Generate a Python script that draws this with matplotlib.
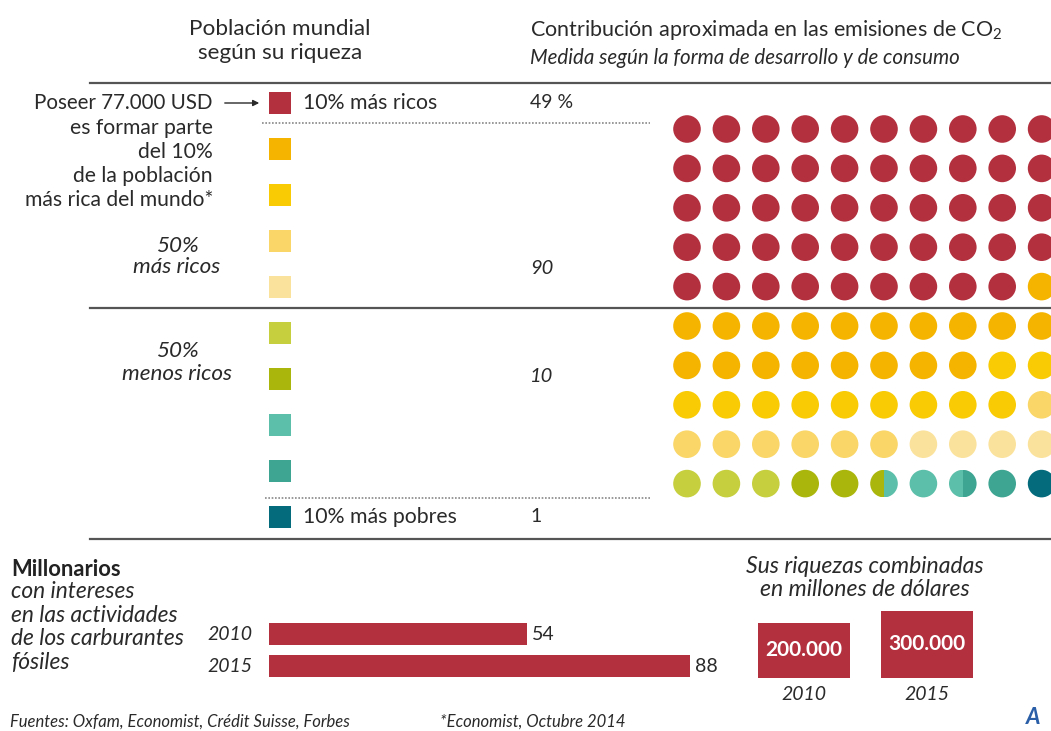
import matplotlib
matplotlib.use("Agg")
import matplotlib.pyplot as plt
from matplotlib.patches import Circle, Rectangle
import numpy as np

plt.rcParams['font.family'] = ['Lato', 'DejaVu Sans']
plt.rcParams['mathtext.default'] = 'regular'

# DATA
decile_labels = ['10% más ricos', '', '', '', '', '', '', '', '', '10% más pobres']
decile_shares = [49, 19, 11, 7, 4, 3, 2.5, 2, 1.5, 1]
decile_colors = ['#b3303f', '#f4b400', '#f8cb04', '#f9d667', '#fbe29c',
                 '#c6cf3e', '#abb60c', '#5cbfa9', '#3fa593', '#036b7c']
group_values = ['49 %', '90', '10', '1']

years = ['2010', '2015']
millionaires = [54, 88]
wealth = [200000, 300000]
wealth_labels = ['200.000', '300.000']

TXT = '#2a2a2a'
RED = '#b3303f'

fig = plt.figure(figsize=(10.51, 7.31), dpi=100)
ax = fig.add_axes([0, 0, 1, 1])
ax.set_xlim(0, 1051)
ax.set_ylim(731, 0)
ax.axis('off')

# HEADERS
ax.text(280, 41, "Población mundial\nsegún su riqueza", fontsize=16.2, color=TXT,
        ha='center', va='center', linespacing=1.22)
ax.text(530, 30, "Contribución aproximada en las emisiones de CO$_2$", fontsize=15.5,
        color=TXT, ha='left', va='center')
ax.text(530, 58, "Medida según la forma de desarrollo y de consumo", fontsize=14.8,
        color=TXT, ha='left', va='center', style='italic')

# separators
ax.plot([90, 1051], [83, 83], color='#555555', lw=1.6)
ax.plot([90, 1051], [308, 308], color='#555555', lw=1.6)
ax.plot([90, 1051], [539, 539], color='#555555', lw=1.6)
ax.plot([262, 650], [123, 123], color='#888888', lw=1.2, ls=(0, (1, 1)))
ax.plot([265, 650], [498, 498], color='#888888', lw=1.2, ls=(0, (1, 1)))

# LEGEND SQUARES
sq_y = 103 + 46.0 * np.arange(len(decile_colors))
for y, c in zip(sq_y, decile_colors):
    ax.add_patch(Rectangle((269, y - 11), 22, 22, facecolor=c, edgecolor='none'))
ax.text(303, sq_y[0], decile_labels[0], fontsize=15.3, color=TXT, va='center')
ax.text(303, sq_y[-1], decile_labels[-1], fontsize=15.3, color=TXT, va='center')

ax.text(530, sq_y[0], group_values[0], fontsize=14, color=TXT, va='center')
ax.text(530, 268, group_values[1], fontsize=14.5, color=TXT, va='center', style='italic')
ax.text(530, 376, group_values[2], fontsize=14.5, color=TXT, va='center', style='italic')
ax.text(530, sq_y[-1], group_values[3], fontsize=14, color=TXT, va='center')

ax.text(213, 103, "Poseer 77.000 USD", fontsize=14.8, color=TXT, ha='right', va='center')
ax.annotate('', xy=(262, 103), xytext=(222, 103),
            arrowprops=dict(arrowstyle='-|>', color=TXT, lw=1, mutation_scale=9))
ax.text(213, 164, "es formar parte\ndel 10%\nde la población\nmás rica del mundo*",
        fontsize=15.2, color=TXT, ha='right', va='center', linespacing=1.25)
ax.text(177, 256.5, "50%\nmás ricos", fontsize=16.2, color=TXT, ha='center', va='center',
        style='italic', linespacing=1.12)
ax.text(177, 362.5, "50%\nmenos ricos", fontsize=16.2, color=TXT, ha='center', va='center',
        style='italic', linespacing=1.2)

# DOT GRID (100 dots, one per percent)
x0, y0, step, r = 687, 129, 39.4, 13.8
bounds = np.concatenate([[0], np.cumsum(decile_shares)])
for k in range(100):
    cx = x0 + step * (k % 10)
    cy = y0 + step * (k // 10)
    for i, c in enumerate(decile_colors):
        a = max(bounds[i], k)
        b = min(bounds[i + 1], k + 1)
        if b <= a:
            continue
        if b - a >= 1:
            ax.add_patch(Circle((cx, cy), r, facecolor=c, edgecolor='none'))
        else:
            clip = Circle((cx, cy), r, transform=ax.transData)
            rect = Rectangle((cx - r + (a - k) * 2 * r, cy - r), (b - a) * 2 * r, 2 * r,
                             facecolor=c, edgecolor='none')
            ax.add_patch(rect)
            rect.set_clip_path(clip)

# MILLIONAIRES BARS
ax.text(11, 569, "Millonarios", fontsize=15.8, color='#222222', fontweight='bold', va='center')
ax.text(11, 627, "con intereses\nen las actividades\nde los carburantes\nfósiles",
        fontsize=16.4, color=TXT, va='center', style='italic', linespacing=1.15)
bar_y = [634, 666]
scale = 4.78
ax.barh(bar_y, [v * scale for v in millionaires], left=269, height=22, color=RED)
for y, v, yr in zip(bar_y, millionaires, years):
    ax.text(269 + v * scale + 5, y, str(v), fontsize=14, color=TXT, va='center')
    ax.text(252, y, yr, fontsize=14, color=TXT, va='center', ha='right', style='italic')

# COMBINED WEALTH BOXES
ax.text(865, 578, "Sus riquezas combinadas\nen millones de dólares", fontsize=16.6,
        color=TXT, ha='center', va='center', style='italic', linespacing=1.15)
box_cx = [803.5, 927]
box_w = 92
base_h = 55
for cx, w, lab, yr in zip(box_cx, wealth, wealth_labels, years):
    h = base_h * np.sqrt(w / wealth[0])
    ax.add_patch(Rectangle((cx - box_w / 2, 678 - h), box_w, h, facecolor=RED, edgecolor='none'))
    ax.text(cx, 678 - h / 2, lab, fontsize=15, color='white', fontweight='bold',
            ha='center', va='center')
    ax.text(cx, 695, yr, fontsize=14, color=TXT, ha='center', va='center', style='italic')

# FOOTER
ax.text(10, 722, "Fuentes: Oxfam, Economist, Crédit Suisse, Forbes", fontsize=12,
        color=TXT, va='center', style='italic')
ax.text(440, 722, "*Economist, Octubre 2014", fontsize=12, color=TXT, va='center', style='italic')
ax.text(1026, 718, "A", fontsize=16, color='#2a5fa8', fontweight='bold', style='italic',
        va='center')

fig.savefig("out.png", dpi=100, facecolor='white')
